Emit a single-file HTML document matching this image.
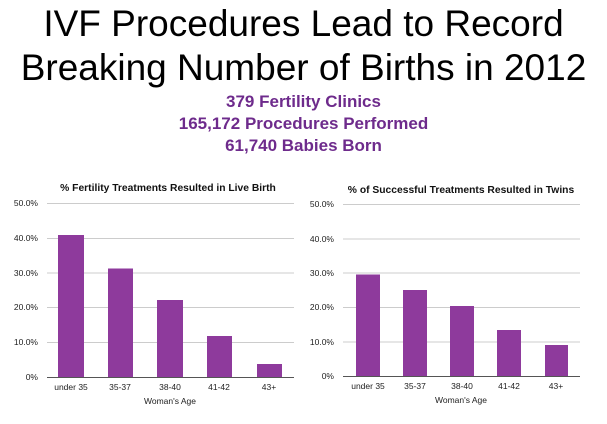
<!DOCTYPE html>
<html><head><style>
body{margin:0;background:#fff;width:607px;height:424px;overflow:hidden;font-family:"Liberation Sans",sans-serif}
.t{position:absolute;left:0;width:607px;text-align:center;font-size:37px;color:#000;line-height:44px}
.s{position:absolute;left:0;width:607px;text-align:center;font-size:17px;font-weight:bold;color:#6e2b8c;line-height:22px}
</style></head><body>
<div class="t" style="top:2px">IVF Procedures Lead to Record</div>
<div class="t" style="top:46px">Breaking Number of Births in 2012</div>
<div class="s" style="top:91px">379 Fertility Clinics</div>
<div class="s" style="top:113px">165,172 Procedures Performed</div>
<div class="s" style="top:135px">61,740 Babies Born</div>
<svg width="607" height="424" style="position:absolute;left:0;top:0" font-family="Liberation Sans, sans-serif">
<g font-size="8.5" fill="#222" text-anchor="end">
<g stroke="#ccc" stroke-width="1">
<line x1="47" x2="294" y1="203.5" y2="203.5"/><line x1="47" x2="294" y1="238.5" y2="238.5"/><line x1="47" x2="294" y1="273" y2="273"/><line x1="47" x2="294" y1="307.5" y2="307.5"/><line x1="47" x2="294" y1="342.5" y2="342.5"/>
<line x1="343" x2="580" y1="204.5" y2="204.5"/><line x1="343" x2="580" y1="239" y2="239"/><line x1="343" x2="580" y1="273" y2="273"/><line x1="343" x2="580" y1="307.5" y2="307.5"/><line x1="343" x2="580" y1="342" y2="342"/>
</g>
<text x="38" y="206">50.0%</text><text x="38" y="241">40.0%</text><text x="38" y="276">30.0%</text><text x="38" y="310">20.0%</text><text x="38" y="345">10.0%</text><text x="38" y="380">0%</text>
<text x="334" y="207">50.0%</text><text x="334" y="242">40.0%</text><text x="334" y="276">30.0%</text><text x="334" y="310">20.0%</text><text x="334" y="345">10.0%</text><text x="334" y="379">0%</text>
</g>
<g fill="#8e3a9c">
<rect x="58" y="235" width="26" height="142"/><rect x="108" y="268.5" width="25" height="108.5"/><rect x="157" y="300" width="26" height="77"/><rect x="207" y="336" width="25" height="41"/><rect x="257" y="364" width="25" height="13"/>
<rect x="356" y="274.5" width="24" height="101.5"/><rect x="403" y="290" width="24" height="86"/><rect x="450" y="306" width="24" height="70"/><rect x="497" y="330" width="24" height="46"/><rect x="545" y="345" width="23" height="31"/>
</g>
<line x1="47" x2="294" y1="377.5" y2="377.5" stroke="#555"/>
<line x1="343" x2="580" y1="376.5" y2="376.5" stroke="#555"/>
<g font-size="8.5" fill="#222" text-anchor="middle">
<text x="71" y="390">under 35</text><text x="120" y="390">35-37</text><text x="170" y="390">38-40</text><text x="219" y="390">41-42</text><text x="269" y="390">43+</text>
<text x="170" y="404">Woman's Age</text>
<text x="368" y="389">under 35</text><text x="415" y="389">35-37</text><text x="462" y="389">38-40</text><text x="509" y="389">41-42</text><text x="556" y="389">43+</text>
<text x="461" y="403">Woman's Age</text>
<g font-weight="bold" font-size="10.3" fill="#111">
<text x="168" y="191">% Fertility Treatments Resulted in Live Birth</text>
<text x="461" y="193">% of Successful Treatments Resulted in Twins</text>
</g></g>
</svg>
</body></html>
